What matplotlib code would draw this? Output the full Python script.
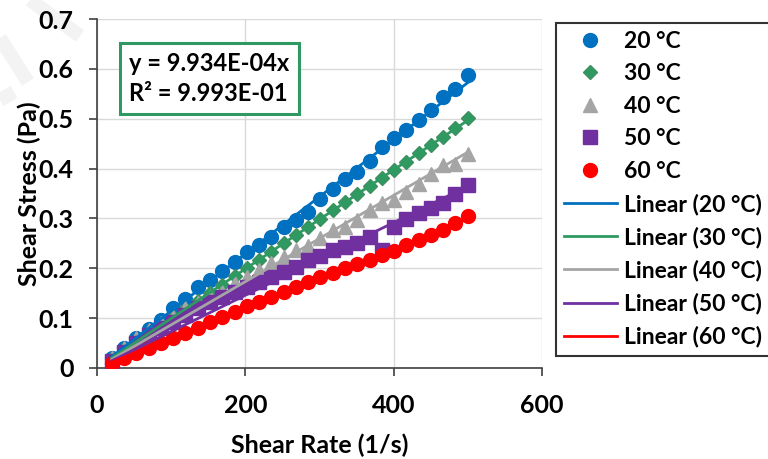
import numpy as np
import matplotlib
matplotlib.use('Agg')
import matplotlib.pyplot as plt
from matplotlib.lines import Line2D

plt.rcParams['font.family'] = ['Lato', 'DejaVu Sans']
plt.rcParams['font.weight'] = 'bold'

# shear rate (1/s)
shear_rate = [20, 37, 53, 70, 86, 103, 119, 136, 152, 169,
              186, 202, 219, 235, 252, 268, 285, 301, 318, 334,
              351, 368, 384, 401, 417, 434, 450, 467, 483, 500]

# shear stress (Pa) at each temperature
stress_20 = [0.020, 0.040, 0.060, 0.078, 0.097, 0.120, 0.138, 0.162, 0.177, 0.195,
             0.213, 0.232, 0.247, 0.263, 0.282, 0.297, 0.313, 0.338, 0.360, 0.380,
             0.393, 0.415, 0.443, 0.461, 0.478, 0.498, 0.517, 0.543, 0.560, 0.587]
stress_30 = [0.021, 0.038, 0.054, 0.070, 0.086, 0.103, 0.118, 0.135, 0.151, 0.167,
             0.184, 0.200, 0.217, 0.233, 0.250, 0.266, 0.283, 0.299, 0.316, 0.332,
             0.349, 0.365, 0.382, 0.398, 0.414, 0.431, 0.447, 0.464, 0.482, 0.501]
stress_40 = [0.020, 0.040, 0.060, 0.077, 0.090, 0.103, 0.120, 0.130, 0.143, 0.153,
             0.171, 0.183, 0.197, 0.210, 0.223, 0.237, 0.245, 0.260, 0.277, 0.283,
             0.297, 0.317, 0.330, 0.337, 0.353, 0.370, 0.390, 0.407, 0.410, 0.429]
stress_50 = [0.013, 0.033, 0.050, 0.067, 0.080, 0.093, 0.107, 0.120, 0.133, 0.143,
             0.153, 0.163, 0.173, 0.183, 0.193, 0.203, 0.217, 0.225, 0.237, 0.243,
             0.251, 0.262, 0.236, 0.283, 0.298, 0.310, 0.320, 0.330, 0.348, 0.367]
stress_60 = [0.010, 0.020, 0.030, 0.040, 0.050, 0.060, 0.070, 0.080, 0.093, 0.103,
             0.113, 0.125, 0.133, 0.143, 0.153, 0.163, 0.173, 0.182, 0.190, 0.200,
             0.209, 0.217, 0.227, 0.235, 0.247, 0.257, 0.267, 0.277, 0.291, 0.305]

labels = ['20 °C', '30 °C', '40 °C', '50 °C', '60 °C']
colors = ['#0070C0', '#2E9A62', '#A5A5A5', '#7030A0', '#FF0000']
markers = ['o', 'D', '^', 's', 'o']
msizes = [10, 7, 10, 9.5, 10]

# trendline slope for 30 °C (through origin)
slope_30 = 9.934e-04
r2_30 = 9.993e-01

x = np.array(shear_rate)
series = [stress_20, stress_30, stress_40, stress_50, stress_60]

FS = 18

fig = plt.figure(figsize=(7.68, 4.59), dpi=100)
ax = fig.add_axes([0.1263, 0.1983, 0.5794, 0.7603])

# faint watermark strokes in the corner
for (x0, y0, x1, y1) in [(30, 0, 80, 36), (0, 38, 28, 82), (0, 100, 14, 92)]:
    fig.add_artist(Line2D([x0 / 768, x1 / 768], [1 - y0 / 459, 1 - y1 / 459],
                          color='#f3f3f3', lw=10, zorder=0, solid_capstyle='butt'))

handles = []
for ys, lab, c, m, ms in zip(series, labels, colors, markers, msizes):
    ec = '#3f8f5f' if m == 'D' else c
    h, = ax.plot(x, ys, linestyle='none', marker=m, markersize=ms, color=c,
                 markeredgecolor=ec, label=lab, zorder=3)
    handles.append(h)

# linear trendlines through the origin
for i, (ys, lab, c) in enumerate(zip(series, labels, colors)):
    y = np.array(ys)
    k = slope_30 if i == 1 else np.sum(x * y) / np.sum(x * x)
    h, = ax.plot([x[0], x[-1]], [k * x[0], k * x[-1]], color=c, lw=2,
                 label='Linear (' + lab + ')', zorder=4)
    handles.append(h)

ax.set_xlim(0, 600)
ax.set_ylim(0, 0.7)
ax.set_xticks([0, 200, 400, 600])
ax.set_yticks([0, 0.1, 0.2, 0.3, 0.4, 0.5, 0.6, 0.7])
ax.set_yticklabels(['0', '0.1', '0.2', '0.3', '0.4', '0.5', '0.6', '0.7'])
ax.grid(True, color='#d9d9d9', lw=1)
ax.set_axisbelow(True)
for s in ['top', 'right']:
    ax.spines[s].set_visible(False)
for s in ['left', 'bottom']:
    ax.spines[s].set_color('#404040')
    ax.spines[s].set_linewidth(1.2)
ax.tick_params(direction='out', length=6, width=1.2, color='#404040',
               labelsize=FS)
ax.tick_params(axis='y', pad=11)
ax.tick_params(axis='x', pad=13)
for t in ax.get_xticklabels() + ax.get_yticklabels():
    t.set_fontweight('bold')

ax.set_xlabel('Shear Rate (1/s)', fontsize=FS, fontweight='bold', labelpad=12)
ax.set_ylabel('Shear Stress (Pa)', fontsize=FS, fontweight='bold', labelpad=-2)

ax.text(0.072, 0.905, 'y = 9.934E-04x\nR² = 9.993E-01', transform=ax.transAxes,
        fontsize=17, fontweight='bold', va='top', ha='left', linespacing=1.35,
        bbox=dict(boxstyle='square,pad=0.4', fc='white', ec='#2E9A62', lw=2.2),
        zorder=6)

leg = fig.legend(handles=handles, loc='upper left',
                 bbox_to_anchor=(556 / 768, 1 - 23 / 459),
                 fontsize=16.5, frameon=True, fancybox=False,
                 handlelength=2.3, handletextpad=0.3, labelspacing=0.5,
                 borderpad=0.35, borderaxespad=0)
leg.get_frame().set_edgecolor('black')
leg.get_frame().set_linewidth(1.5)
for t in leg.get_texts():
    t.set_fontweight('bold')

fig.savefig('out.png', dpi=100)
